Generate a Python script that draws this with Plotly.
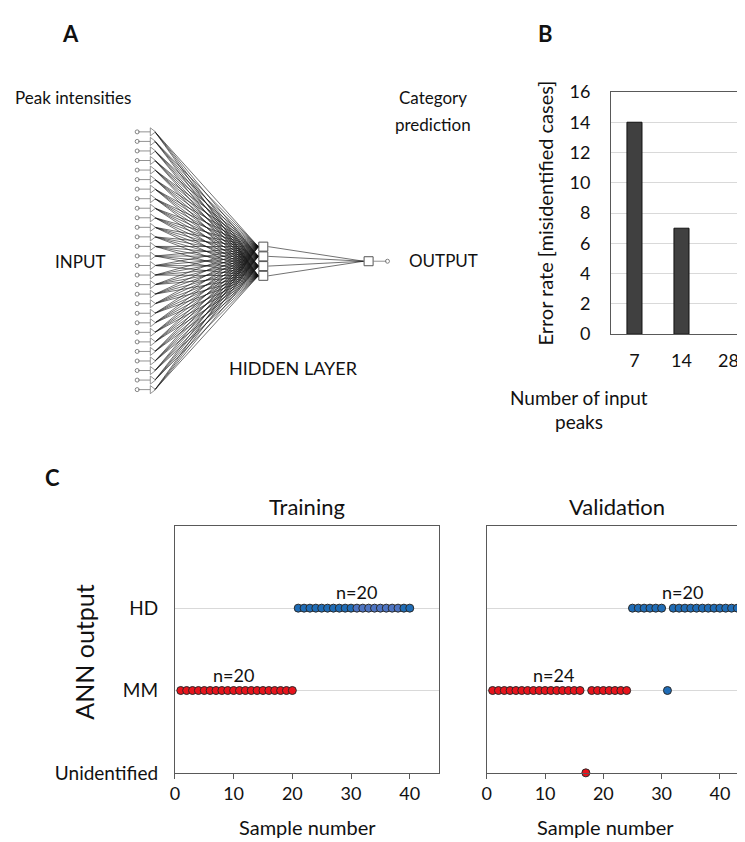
import numpy as np
import plotly.graph_objects as go

W, H = 745, 842
FONT = "Lato"

# panel A network
n_inputs = 28
n_hidden = 4

# panel B
peak_counts = ["7", "14", "28"]
error_rate = [14, 7, 0]

# panel C, sample numbers per output row
train_mm = [1, 2, 3, 4, 5, 6, 7, 8, 9, 10, 11, 12, 13, 14, 15, 16, 17, 18, 19, 20]
train_hd = [21, 22, 23, 24, 25, 26, 27, 28, 29, 30]
train_hd_light = [31, 32, 33, 34, 35, 36, 37, 38]
train_hd_end = [39, 40]
val_mm_red = [1, 2, 3, 4, 5, 6, 7, 8, 9, 10, 11, 12, 13, 14, 15, 16, 18, 19, 20, 21, 22, 23, 24]
val_mm_blue = [31]
val_hd = [25, 26, 27, 28, 29, 30, 32, 33, 34, 35, 36, 37, 38, 39, 40, 41, 42, 43, 44]
val_unid_red = [17]
row_labels = ["Unidentified", "MM", "HD"]
n_labels = [("x3", "y3", 9.9, 1, "n=20"), ("x3", "y3", 31, 2, "n=20"),
            ("x4", "y4", 11.4, 1, "n=24"), ("x4", "y4", 33.6, 2, "n=20")]

RED = "#e8131b"
BLUE = "#1f6cb6"
BLUE_LIGHT = "#4d74c2"


def px(x):
    return x / W


def py(y):
    return 1 - y / H


fig = go.Figure()

# ---- A: network diagram, axis in pixel units
in_y = np.linspace(115, 380, n_inputs)
hid_y = np.linspace(233, 263, n_hidden)
out_y = 248

lx, ly = [], []
for yi in in_y:
    for yh in hid_y:
        lx += [143, 247, None]
        ly += [yi, yh, None]
for yh in hid_y:
    lx += [257, 353, None]
    ly += [yh, out_y, None]
fig.add_trace(go.Scatter(x=lx, y=ly, mode="lines", line=dict(color="rgba(20,20,20,0.8)", width=0.75),
                         xaxis="x", yaxis="y", hoverinfo="skip"))
sx, sy = [], []
for yi in in_y:
    sx += [126, 138, None]
    sy += [yi, yi, None]
sx += [363, 376, None]
sy += [out_y, out_y, None]
fig.add_trace(go.Scatter(x=sx, y=sy, mode="lines", line=dict(color="#777", width=0.8),
                         xaxis="x", yaxis="y", hoverinfo="skip"))
fig.add_trace(go.Scatter(x=[125] * n_inputs + [377], y=list(in_y) + [out_y], mode="markers",
                         marker=dict(symbol="circle-open", size=4, color="#666", line=dict(width=0.8)),
                         xaxis="x", yaxis="y", hoverinfo="skip"))
fig.add_trace(go.Scatter(x=[140] * n_inputs, y=in_y, mode="markers",
                         marker=dict(symbol="triangle-right-open", size=7, color="#777", line=dict(width=0.8)),
                         xaxis="x", yaxis="y", hoverinfo="skip"))
fig.add_trace(go.Scatter(x=[252] * n_hidden + [358], y=list(hid_y) + [out_y], mode="markers",
                         marker=dict(symbol="square-open", size=9, color="#555", line=dict(width=1)),
                         xaxis="x", yaxis="y", hoverinfo="skip"))

# ---- B: bar chart
fig.add_trace(go.Bar(x=peak_counts, y=error_rate, width=0.32,
                     marker=dict(color="#404040",
                                 line=dict(color="#111", width=[1 if v > 0 else 0 for v in error_rate])),
                     xaxis="x2", yaxis="y2"))


# ---- C: ANN output dot plots
def dots(xs, row, color, xa, ya):
    fig.add_trace(go.Scatter(x=xs, y=[row] * len(xs), mode="markers", cliponaxis=False,
                             marker=dict(size=8, color=color, line=dict(color="#2a2a2a", width=1)),
                             xaxis=xa, yaxis=ya, hoverinfo="skip"))


dots(train_mm, 1, RED, "x3", "y3")
dots(train_hd, 2, BLUE, "x3", "y3")
dots(train_hd_light, 2, BLUE_LIGHT, "x3", "y3")
dots(train_hd_end, 2, BLUE, "x3", "y3")
dots(val_mm_red, 1, RED, "x4", "y4")
dots(val_mm_blue, 1, BLUE, "x4", "y4")
dots(val_hd, 2, BLUE, "x4", "y4")
dots(val_unid_red, 0, RED, "x4", "y4")

axis_line = dict(showline=True, linecolor="#595959", linewidth=1, mirror=True)
grid = "#d9d9d9"
tf = dict(family=FONT, size=18, color="#111")

fig.update_layout(
    width=W, height=H, margin=dict(l=0, r=0, t=0, b=0),
    paper_bgcolor="white", plot_bgcolor="white", showlegend=False,
    font=dict(family=FONT, color="#111"),
    xaxis=dict(domain=[0, px(470)], range=[0, 470], visible=False, anchor="y"),
    yaxis=dict(domain=[py(400), 1], range=[400, 0], visible=False, anchor="x"),
    xaxis2=dict(domain=[px(602), px(744)], type="category", range=[-0.5, 2.5], anchor="y2",
                tickfont=tf, ticks="", ticklabelstandoff=10, **axis_line),
    yaxis2=dict(domain=[py(323), py(74)], range=[0, 16], dtick=2, gridcolor=grid, anchor="x2",
                tickfont=tf, ticks="", ticklabelstandoff=16, zeroline=False,
                title=dict(text="Error rate [misidentified cases]", font=dict(family=FONT, size=20), standoff=10),
                **axis_line),
    xaxis3=dict(domain=[px(163), px(429)], range=[0, 45], tickvals=[0, 10, 20, 30, 40], anchor="y3",
                ticks="outside", ticklen=5, tickcolor="#595959", tickfont=tf, showgrid=False,
                zeroline=False, **axis_line),
    yaxis3=dict(domain=[py(774), py(520)], range=[0, 3], tickvals=[0, 1, 2], ticktext=row_labels,
                gridcolor=grid, ticks="", tickfont=dict(family=FONT, size=19, color="#111"), anchor="x3",
                zeroline=False, ticklabelstandoff=12, **axis_line),
    xaxis4=dict(domain=[px(477), px(741)], range=[0, 45], tickvals=[0, 10, 20, 30, 40], anchor="y4",
                ticks="outside", ticklen=5, tickcolor="#595959", tickfont=tf, showgrid=False,
                zeroline=False, **axis_line),
    yaxis4=dict(domain=[py(774), py(520)], range=[0, 3], tickvals=[0, 1, 2], showticklabels=False,
                gridcolor=grid, ticks="", zeroline=False, anchor="x4", **axis_line),
)

ann = []


def text(x, y, s, size=17, anchor="left", bold=False, angle=0):
    if bold:
        s = "<b>" + s + "</b>"
    ann.append(dict(x=px(x), y=py(y), xref="paper", yref="paper", text=s, showarrow=False, xanchor=anchor,
                    yanchor="middle", textangle=angle, font=dict(family=FONT, size=size, color="#111")))


text(47, 14, "A", 22, bold=True)
text(0, 80, "Peak intensities", 17)
text(423, 80, "Category", 17, anchor="center")
text(423, 107, "prediction", 17, anchor="center")
text(40, 248, "INPUT", 17)
text(397, 247, "OUTPUT", 17)
text(215, 358, "HIDDEN LAYER", 18)
text(527, 14, "B", 22, bold=True)
text(570, 388, "Number of input", 19, anchor="center")
text(570, 413, "peaks", 19, anchor="center")
text(30, 470, "C", 22, bold=True)
text(296, 500, "Training", 22, anchor="center")
text(608, 500, "Validation", 22, anchor="center")
text(296, 830, "Sample number", 20, anchor="center")
text(596, 830, "Sample number", 20, anchor="center")
text(72, 650, "ANN output", 25, anchor="center", angle=-90)

for xa, ya, xv, yv, s in n_labels:
    ann.append(dict(x=xv, y=yv, xref=xa, yref=ya, text=s, showarrow=False, yanchor="bottom", yshift=3,
                    font=dict(family=FONT, size=18, color="#111")))

fig.update_layout(annotations=ann)
fig.write_html("out.html")
